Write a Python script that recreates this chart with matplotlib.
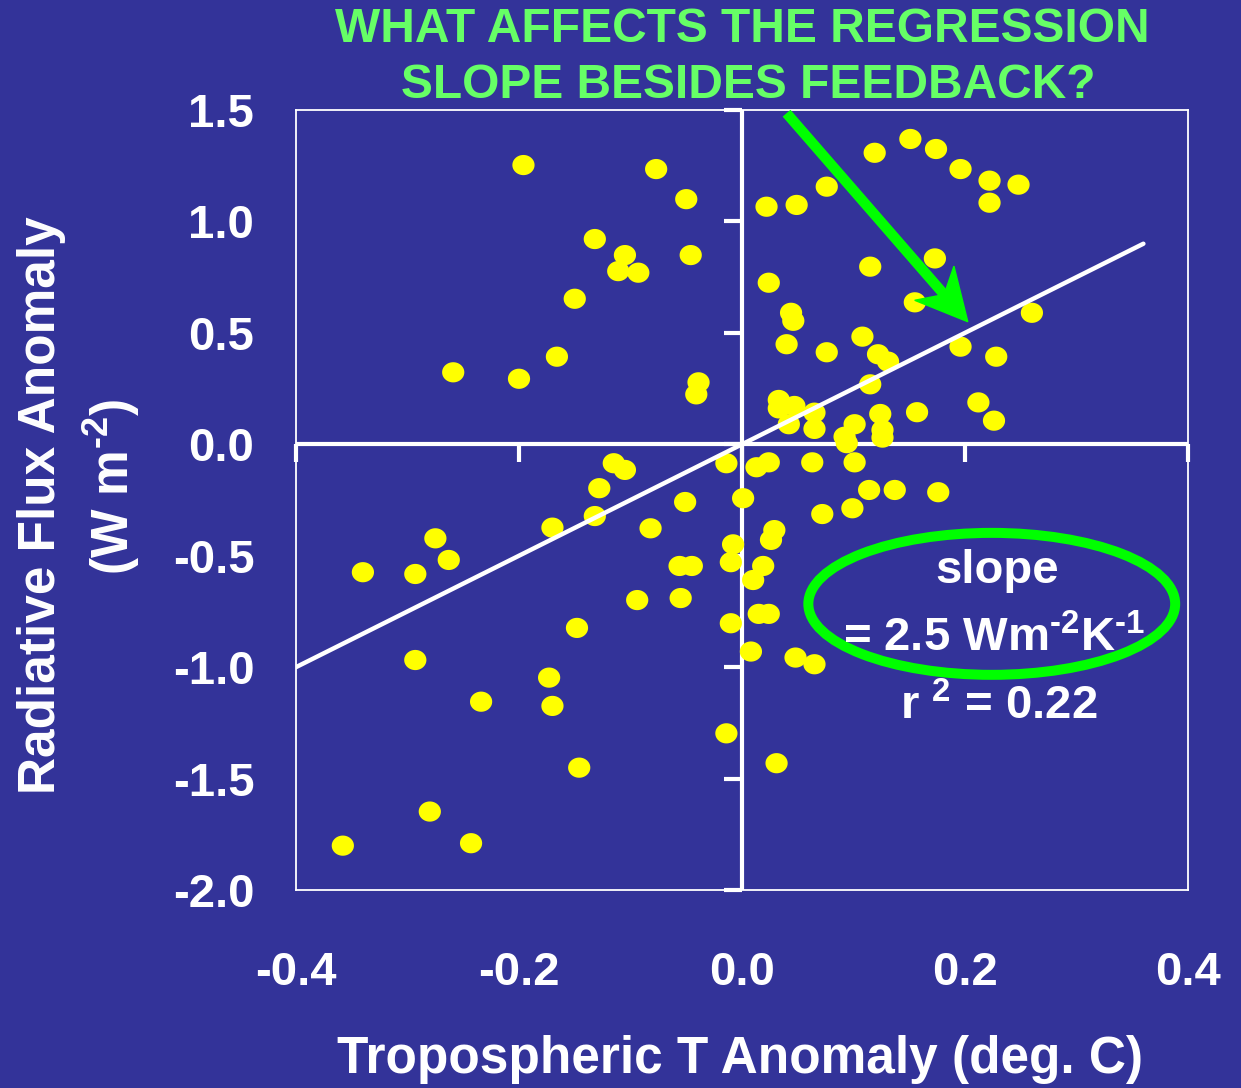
import numpy as np
import matplotlib
matplotlib.use('Agg')
import matplotlib.pyplot as plt
from matplotlib.patches import Ellipse, Polygon
from matplotlib.path import Path

# monthly anomalies (deg C, W m-2)
temp_anom = [
    -0.196, -0.077, -0.050, 0.022, -0.132, -0.105, -0.111, -0.093, -0.046, 0.024,
    -0.150, -0.166, -0.259, -0.200, -0.039, -0.041,
    0.119, 0.151, 0.174, 0.196, 0.222, 0.248, 0.222, 0.049, 0.076, 0.173,
    0.115, 0.155, 0.260, 0.044, 0.046, 0.040, 0.076, 0.108, 0.196, 0.228,
    0.122, 0.131, 0.115, 0.212, 0.226, 0.033, 0.033, 0.047, 0.042, 0.065,
    0.065, 0.124, 0.157, 0.101, 0.092, 0.126, 0.126, 0.094,
    -0.014, 0.013, 0.024, 0.063, 0.101, 0.001, 0.114, 0.137, 0.176, 0.099,
    0.072, 0.029, 0.026, -0.008, -0.010, 0.019, 0.010, 0.015, 0.024, -0.010,
    0.008, 0.048, 0.065, -0.014, 0.031,
    -0.115, -0.105, -0.128, -0.132, -0.170, -0.082, -0.051, -0.056, -0.045, -0.094,
    -0.055, -0.148, -0.275, -0.263, -0.340, -0.293, -0.293, -0.173, -0.170, -0.234,
    -0.146, -0.280, -0.358, -0.243,
]
flux_anom = [
    1.253, 1.235, 1.100, 1.066, 0.921, 0.849, 0.777, 0.770, 0.849, 0.725,
    0.653, 0.393, 0.323, 0.294, 0.278, 0.224,
    1.308, 1.370, 1.325, 1.235, 1.183, 1.165, 1.084, 1.074, 1.156, 0.834,
    0.797, 0.637, 0.590, 0.590, 0.554, 0.449, 0.413, 0.483, 0.438, 0.393,
    0.404, 0.371, 0.269, 0.188, 0.106, 0.199, 0.161, 0.172, 0.090, 0.142,
    0.069, 0.136, 0.144, 0.090, 0.034, 0.064, 0.030, 0.005,
    -0.085, -0.103, -0.081, -0.081, -0.081, -0.242, -0.205, -0.205, -0.215, -0.287,
    -0.313, -0.385, -0.429, -0.449, -0.529, -0.546, -0.609, -0.761, -0.761, -0.803,
    -0.930, -0.957, -0.987, -1.297, -1.431,
    -0.085, -0.115, -0.197, -0.322, -0.374, -0.377, -0.259, -0.546, -0.546, -0.699,
    -0.690, -0.824, -0.422, -0.519, -0.574, -0.582, -0.968, -1.047, -1.174, -1.155,
    -1.451, -1.648, -1.801, -1.790,
]

slope = 2.5
r2 = 0.22
fit_x = [-0.4, 0.36]

xticks = [-0.4, -0.2, 0.0, 0.2, 0.4]
yticks = [-2.0, -1.5, -1.0, -0.5, 0.0, 0.5, 1.0, 1.5]

BG = '#333399'
GREEN = '#00ff00'
TITLE_GREEN = '#66ff66'

plt.rcParams['font.family'] = ['Liberation Sans', 'DejaVu Sans']
plt.rcParams['font.weight'] = 'bold'
plt.rcParams['axes.unicode_minus'] = False
plt.rcParams['mathtext.fontset'] = 'custom'
plt.rcParams['mathtext.rm'] = 'Liberation Sans:bold'
plt.rcParams['mathtext.default'] = 'rm'

fig = plt.figure(figsize=(12.41, 10.88), dpi=100, facecolor=BG)
ax = fig.add_axes([296/1241, 198/1088, 892/1241, 780/1088])
ax.set_facecolor(BG)
ax.set_xlim(-0.4, 0.4)
ax.set_ylim(-2.0, 1.5)
for s in ax.spines.values():
    s.set_color('white')
    s.set_linewidth(1.3)

ax.set_xticks(xticks)
ax.set_xticklabels(['%.1f' % v for v in xticks])
ax.set_yticks(yticks)
ax.set_yticklabels(['%.1f' % v for v in yticks])
ax.tick_params(axis='both', length=0, labelsize=34, labelcolor='white')
ax.tick_params(axis='x', pad=44)
ax.tick_params(axis='y', pad=30)

# axes crossing at zero, with tick marks
ax.axhline(0, color='white', lw=3, zorder=2)
ax.axvline(0, color='white', lw=3, zorder=2)
ax.plot(xticks, [0]*len(xticks), ls='none', marker=3, ms=13, mew=3,
        color='white', clip_on=False, zorder=2)
ax.plot([0]*len(yticks), yticks, ls='none', marker=0, ms=13, mew=3,
        color='white', clip_on=False, zorder=2)

# slightly wide ellipse markers like the original
t = np.linspace(0, 2*np.pi, 60)
oval = Path(np.column_stack([1.1*np.cos(t), np.sin(t)]), closed=True)
ax.scatter(temp_anom, flux_anom, marker=oval, s=16**2, color='yellow',
           edgecolors='none', zorder=3)

fx = np.array(fit_x)
ax.plot(fx, slope*fx, color='white', lw=3.2, solid_capstyle='round', zorder=4)

# green arrow pointing at the regression line (built in pixel space)
p0 = ax.transData.transform((0.043, 1.468))
p1 = ax.transData.transform((0.2025, 0.55))
d = (p1 - p0) / np.hypot(*(p1 - p0))
n = np.array([-d[1], d[0]])
notch = p1 - 36*d
head = np.array([p1, p1 - 51*d + 26*n, notch, p1 - 51*d - 26*n])
inv = ax.transData.inverted()
ax.plot(*inv.transform(np.array([p0, notch + 4*d])).T, color=GREEN, lw=7.5, zorder=5)
ax.add_patch(Polygon(inv.transform(head), closed=True, color=GREEN, zorder=5))

ax.add_patch(Ellipse((0.224, -0.716), 0.329, 0.637, fill=False,
                     edgecolor=GREEN, lw=7.2, zorder=5))
ax.text(0.786, 0.409, 'slope', transform=ax.transAxes, ha='center', va='center',
        color='white', fontsize=34, zorder=6)
ax.text(0.7825, 0.322, r'= %.1f Wm$^{\text{-2}}$K$^{\text{-1}}$' % slope,
        transform=ax.transAxes, ha='center', va='center', color='white',
        fontsize=34, zorder=6)
ax.text(0.788, 0.235, 'r $^{2}$ = %.2f' % r2, transform=ax.transAxes,
        ha='center', va='center', color='white', fontsize=34, zorder=6)

fig.text(742/1241, 1 - 29/1088, 'WHAT AFFECTS THE REGRESSION', ha='center', va='center',
         color=TITLE_GREEN, fontsize=34.5)
fig.text(748/1241, 1 - 86/1088, 'SLOPE BESIDES FEEDBACK?', ha='center', va='center',
         color=TITLE_GREEN, fontsize=34.5)

fig.text(42/1241, 1 - 505/1088, 'Radiative Flux Anomaly', rotation=90,
         ha='center', va='center', color='white', fontsize=37)
fig.text(112/1241, 1 - 487/1088, r'(W m$^{\text{-2}}$)', rotation=90,
         ha='center', va='center', color='white', fontsize=37)
fig.text(740/1241, 1 - 1059/1088, 'Tropospheric T Anomaly (deg. C)',
         ha='center', va='center', color='white', fontsize=37)

fig.savefig('out.png', dpi=100, facecolor=BG)
